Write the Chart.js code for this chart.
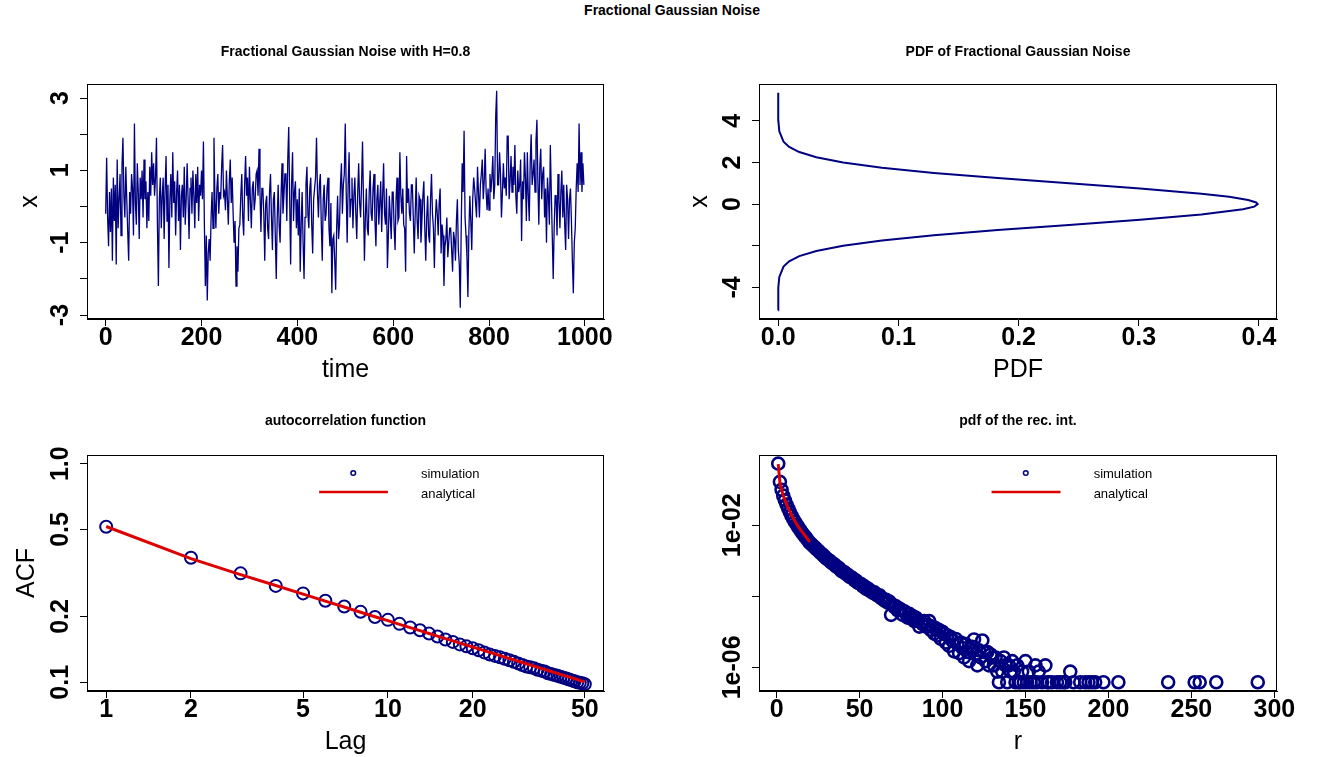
<!DOCTYPE html>
<html>
<head>
<meta charset="utf-8">
<script src="https://cdn.jsdelivr.net/npm/chart.js@4.4.1/dist/chart.umd.min.js"></script>
<style>
  body { margin: 0; background: #fff; width: 1344px; height: 757px; position: relative; overflow: hidden; }
  #main { position: absolute; left: 0; top: 2px; width: 1344px; text-align: center;
          font: bold 14px "Liberation Sans", Arial, sans-serif; color: #000; }
  .pan { position: absolute; width: 672px; }
</style>
</head>
<body>
<div id="main">Fractional Gaussian Noise</div>
<div class="pan" style="left:0;top:0;height:400px"><canvas id="c1"></canvas></div>
<div class="pan" style="left:672px;top:0;height:400px"><canvas id="c2"></canvas></div>
<div class="pan" style="left:0;top:390px;height:367px"><canvas id="c3"></canvas></div>
<div class="pan" style="left:672px;top:390px;height:367px"><canvas id="c4"></canvas></div>
<script>
// fGn sample, read every 2 time steps
const fgnStep = 2;
const fgnValue = [
  -0.2, 1.35, -0.3, -1.1, 0.4, -0.7, 0.5, -1.5, 0.8, -0.4,
  0.6, -1.6, 1.3, -0.6, 0.2, 0.9, -0.8, 1.1, 1.9, 0.3,
  -0.3, 1.1, 0.2, -0.7, -1.5, 0.4, -0.2, 0.9, 0.5, -0.8,
  2.3, 0.1, -0.5, 1.2, 0.4, -0.9, 0.8, 0.2, 1.0, -0.3,
  1.3, 0.2, 0.7, -0.6, 0.4, -0.4, 1.1, 0.3, 1.5, 0.6,
  1.2, 0.3, 0.8, 1.9, -0.5, -2.2, 0.2, 0.8, -0.6, 0.3,
  0.8, -0.9, 0.5, 1.4, -0.4, 0.6, -1.7, 0.2, 0.9, -0.3,
  1.5, 0.1, 0.7, -0.8, 0.4, 1.0, -0.4, 0.6, -1.2, 0.3,
  0.6, -0.3, 1.1, -0.5, 0.2, 1.2, 0.2, -0.9, 0.5, 0.8,
  -0.2, 1.0, 0.3, -0.6, 0.9, 0.1, 1.1, -0.4, 0.6, 0.3,
  1.0, 0.2, 1.8, -0.5, -2.2, -0.8, -2.6, -1.3, -0.9, -1.5,
  -0.3, 0.4, -0.6, 1.9, 0.2, -0.6, 0.5, 0.9, -0.2, 0.4,
  0.2, 1.1, 1.7, 0.3, 0.4, -0.1, 1.0, 0.2, -0.5, 0.7,
  1.3, 0.1, 0.8, -0.2, -1.0, -0.4, -2.2, -1.1, -1.8, -0.6,
  -0.5, 0.3, 0.9, -0.3, -0.8, 0.6, 1.4, 0.3, 0.8, -0.4,
  1.1, 0.2, -0.6, 0.5, 0.7, -0.1, 0.2, 0.9, 1.0, 0.3,
  1.6, 0.4, -0.7, 0.5, 0.5, -0.2, -1.5, 0.1, 0.3, -0.6,
  -0.9, 0.4, 0.9, -0.3, -1.2, 0.2, 0.4, -0.8, -2.0, -0.3,
  0.6, -0.5, -1.0, 0.3, 1.2, -0.2, 0.3, 0.9, 0.9, -0.4,
  1.3, 2.2, 0.2, -1.6, 0.6, 1.5, -0.4, 0.4, 0.7, -0.6,
  0.2, -0.8, 0.5, -1.8, -0.5, 0.4, -1.0, -2.0, -0.3, 0.6,
  1.1, -0.2, -0.6, 0.5, 0.8, -0.5, -1.3, 0.2, 0.5, 0.8,
  1.9, 0.4, -0.3, 0.6, 0.9, -0.5, -1.5, 0.2, 0.6, -0.4,
  -0.2, 0.5, 0.8, -0.6, -1.1, 0.1, -2.4, -0.9, -0.8, -1.5,
  -2.3, -0.6, 0.3, -0.9, -0.5, 0.6, 1.2, -0.2, 0.6, 0.9,
  2.3, 0.4, -1.0, 0.6, 1.5, -0.3, 0.2, 0.8, -0.6, 0.3,
  0.8, -0.2, -0.9, 0.4, 1.2, 0.1, -0.3, 0.6, 1.8, 0.2,
  -1.5, -0.3, 0.5, -0.6, -0.8, 0.4, 1.0, -0.2, -0.4, 0.5,
  0.9, -0.4, -1.1, 0.2, 0.6, -0.5, 0.1, 0.7, -0.7, 0.3,
  1.2, -0.2, -0.5, 0.5, -1.7, -0.8, 0.3, -0.3, -0.9, 0.4,
  0.4, -0.6, -1.2, 0.2, 0.8, -0.4, -0.3, 1.5, 0.3, -0.2,
  0.5, -0.5, -0.6, -1.8, 1.4, 0.1, 0.5, -0.2, -0.4, 0.6,
  0.6, -0.3, -1.3, -0.2, 0.8, -0.4, -0.9, 0.3, 0.2, -1.0,
  -0.4, 0.3, 0.7, -0.6, -1.5, -0.3, 0.3, -0.8, -1.0, 0.2,
  0.9, -0.2, -0.6, -1.7, -0.4, 0.2, -0.2, -0.8, 0.1, 0.5,
  -1.3, -0.5, -0.8, -2.2, -1.1, -0.9, -0.3, -1.4, -1.0, -0.6,
  -0.6, -1.2, -1.8, -0.7, -0.9, -1.5, -0.4, 0.2, -1.2, -1.6,
  -2.8, -0.6, 1.2, 0.4, 2.1, -0.3, -0.8, -1.4, -2.5, -0.7,
  0.3, -0.4, -1.2, 0.2, 0.8, 0.5, 0.1, -0.3, 1.1, 0.4,
  -0.3, 0.6, 0.9, 1.3, 0.2, 0.7, 1.6, 0.4, -0.1, 0.5,
  -0.1, 0.9, 0.4, 0.8, 1.4, 0.2, 0.6, 2.5, 3.2, 0.6,
  0.6, 1.5, 0.9, -0.3, 0.4, 1.2, 0.5, 0.8, 0.3, 1.95,
  1.95, 0.2, 0.7, 1.4, 0.4, 1.1, 0.6, 1.7, 0.3, -0.2,
  1.0, 0.4, 0.6, 1.3, -0.95, 0.7, 0.2, 1.5, 0.8, -0.4,
  1.5, 0.3, -0.4, 1.2, 2.0, 0.6, 0.9, 1.3, 0.4, 1.8,
  2.4, 0.7, -0.5, 1.1, 1.6, 0.2, 0.9, 1.1, -0.3, 0.5,
  -1.0, 0.8, 0.3, -0.5, 1.7, 0.4, -0.8, -2.0, -0.6, 0.3,
  0.3, -0.8, 0.9, 0.2, -0.6, 0.4, 1.0, -0.3, 0.6, -0.5,
  -1.2, 0.6, 0.2, -0.9, 0.2, 0.5, -0.4, -1.5, -2.4, -1.0,
  -0.6, 0.5, 1.2, 0.4, 2.3, 0.6, 1.5, 0.4, 1.2, 0.6
];

// density curve (x on the vertical axis)
const pdfX = [-5.1, -4.5, -4.0, -3.5, -3.0, -2.75, -2.5, -2.25, -2.0, -1.75, -1.5, -1.25, -1.0, -0.75,
  -0.5, -0.25, -0.12, 0.0, 0.08, 0.2, 0.35, 0.5, 0.75, 1.0, 1.25, 1.5, 1.75, 2.0, 2.25, 2.5, 2.75,
  3.0, 3.5, 4.0, 4.5, 5.35];
const pdfDensity = [0.0, 0.00002, 0.0001, 0.0009, 0.0044, 0.0091, 0.0175, 0.0317, 0.054, 0.0863,
  0.1295, 0.1826, 0.242, 0.3011, 0.3521, 0.3867, 0.3961, 0.3989, 0.3977, 0.391, 0.3752, 0.3521,
  0.3011, 0.242, 0.1826, 0.1295, 0.0863, 0.054, 0.0317, 0.0175, 0.0091, 0.0044, 0.0009, 0.0001,
  0.00002, 0.0];

// autocorrelation, lags 1..50
const acfLag = [1, 2, 3, 4, 5, 6, 7, 8, 9, 10, 11, 12, 13, 14, 15, 16, 17, 18, 19, 20, 21, 22, 23, 24, 25,
  26, 27, 28, 29, 30, 31, 32, 33, 34, 35, 36, 37, 38, 39, 40, 41, 42, 43, 44, 45, 46, 47, 48, 49, 50];
const acfSim = [0.515, 0.371, 0.315, 0.276, 0.255, 0.236, 0.222, 0.210, 0.199, 0.193,
  0.185, 0.178, 0.173, 0.167, 0.162, 0.157, 0.153, 0.149, 0.146, 0.143,
  0.140, 0.137, 0.134, 0.132, 0.130, 0.128, 0.126, 0.124, 0.122, 0.120,
  0.118, 0.117, 0.116, 0.114, 0.113, 0.112, 0.110, 0.109, 0.108, 0.107,
  0.106, 0.105, 0.104, 0.103, 0.102, 0.101, 0.100, 0.0995, 0.099, 0.098];
const acfTheory = [0.516, 0.368, 0.311, 0.277, 0.253, 0.235, 0.221, 0.209, 0.1995, 0.1913,
  0.1841, 0.1778, 0.1722, 0.1671, 0.1626, 0.1584, 0.1546, 0.1511, 0.1479, 0.1449,
  0.1421, 0.1395, 0.1370, 0.1347, 0.1325, 0.1304, 0.1285, 0.1266, 0.1248, 0.1231,
  0.1215, 0.1200, 0.1185, 0.1171, 0.1158, 0.1145, 0.1132, 0.1120, 0.1109, 0.1098,
  0.1087, 0.1076, 0.1066, 0.1056, 0.1047, 0.1038, 0.1029, 0.1020, 0.1012, 0.1004];

// recurrence interval pdf: r = 1..133 consecutive, then a sparse tail
const recPdf = [
  5.4e-1, 1.66e-1, 1.0e-1, 6.8e-2, 5.0e-2, 3.8e-2, 2.95e-2, 2.34e-2, 1.86e-2, 1.51e-2,
  1.26e-2, 1.05e-2, 8.9e-3, 7.6e-3, 6.5e-3, 5.6e-3, 4.9e-3, 4.3e-3, 3.7e-3, 3.2e-3,
  2.95e-3, 2.63e-3, 2.4e-3, 2.14e-3, 1.95e-3, 1.74e-3, 1.58e-3, 1.45e-3, 1.29e-3, 1.17e-3,
  1.07e-3, 1.0e-3, 8.9e-4, 8.3e-4, 7.8e-4, 6.8e-4, 6.5e-4, 6.0e-4, 5.2e-4, 4.9e-4,
  4.7e-4, 4.2e-4, 4.0e-4, 3.55e-4, 3.4e-4, 3.2e-4, 2.8e-4, 2.75e-4, 2.4e-4, 2.3e-4,
  2.2e-4, 1.9e-4, 1.9e-4, 1.62e-4, 1.66e-4, 1.45e-4, 1.41e-4, 1.26e-4, 1.29e-4, 1.12e-4,
  1.05e-4, 1.07e-4, 8.9e-5, 8.7e-5, 7.6e-5, 7.9e-5, 6.6e-5, 7.1e-5, 3.0e-5, 5.8e-5,
  5.0e-5, 5.2e-5, 4.0e-5, 4.5e-5, 4.2e-5, 3.0e-5, 3.8e-5, 3.3e-5, 2.5e-5, 3.2e-5,
  2.4e-5, 2.8e-5, 2.0e-5, 2.5e-5, 2.1e-5, 1.4e-5, 1.9e-5, 1.66e-5, 2.0e-5, 1.4e-5,
  1.6e-5, 2.0e-5, 1.12e-5, 1.4e-5, 8.9e-6, 1.26e-5, 7.9e-6, 1.12e-5, 6.3e-6, 1.0e-5,
  8.9e-6, 5.0e-6, 7.9e-6, 4.0e-6, 7.1e-6, 5.6e-6, 2.8e-6, 6.3e-6, 4.5e-6, 2.5e-6,
  5.0e-6, 3.5e-6, 1.9e-6, 4.5e-6, 2.7e-6, 1.5e-6, 3.4e-6, 3.8e-6, 6.1e-6, 2.3e-6,
  1.14e-6, 3.0e-6, 1.9e-6, 5.7e-6, 2.7e-6, 1.5e-6, 2.7e-6, 1.14e-6, 2.3e-6, 1.9e-6,
  1.14e-6, 1.9e-6, 7.6e-7
];
const recTailR = [134, 135, 136, 137, 138, 139, 140, 141, 142, 143, 144, 145, 146, 147, 148, 149, 150,
  151, 152, 153, 155, 156, 157, 158, 160, 162, 163, 164, 166, 169, 171, 173, 174, 177, 179, 183, 186,
  188, 190, 192, 197, 206, 236, 252, 255, 265, 290];
const recTailPdf = [3.8e-7, 1.5e-6, 7.6e-7, 1.9e-6, 1.14e-6, 3.8e-7, 1.14e-6, 7.6e-7, 1.5e-6, 7.6e-7,
  3.8e-7, 1.14e-6, 3.8e-7, 3.8e-7, 7.6e-7, 3.8e-7, 1.5e-6, 3.8e-7, 7.6e-7, 3.8e-7, 3.8e-7, 1.14e-6,
  3.8e-7, 7.6e-7, 3.8e-7, 1.14e-6, 3.8e-7, 3.8e-7, 3.8e-7, 3.8e-7, 3.8e-7, 3.8e-7, 3.8e-7, 7.6e-7,
  3.8e-7, 3.8e-7, 3.8e-7, 3.8e-7, 3.8e-7, 3.8e-7, 3.8e-7, 3.8e-7, 3.8e-7, 3.8e-7, 3.8e-7, 3.8e-7, 3.8e-7];
const recTheory = [5.2e-1, 1.6e-1, 1.0e-1, 6.9e-2, 5.1e-2, 3.9e-2, 3.0e-2, 2.4e-2, 1.95e-2, 1.6e-2,
  1.32e-2, 1.1e-2, 9.3e-3, 8.0e-3, 6.9e-3, 6.0e-3, 5.2e-3, 4.5e-3, 3.9e-3, 3.4e-3];

// tick values and labels
const t1x = [0, 200, 400, 600, 800, 1000];
const t1y = [-3, -2, -1, 0, 1, 2, 3];
const l1y = [-3, -1, 1, 3];
const t2x = [0, 0.1, 0.2, 0.3, 0.4];
const t2xText = ['0.0', '0.1', '0.2', '0.3', '0.4'];
const t2y = [-4, -2, 0, 2, 4];
const l2y = [-4, 0, 2, 4];
const t3x = [1, 2, 5, 10, 20, 50];
const t3y = [0.1, 0.2, 0.5, 1.0];
const l3yText = ['0.1', '0.2', '0.5', '1.0'];
const t4x = [0, 50, 100, 150, 200, 250, 300];
const t4y = [1e-6, 1e-4, 1e-2];
const l4y = [1e-2, 1e-6];
const l4yText = ['1e-02', '1e-06'];

const FONT = '"Liberation Sans", Arial, Helvetica, sans-serif';
const NAVY = '#000080';
const RED = '#dd0000';

// full box round the plot region, and the panel title centred over it
const boxPlugin = {
  id: 'box',
  afterDraw(chart, args, opts) {
    const a = chart.chartArea, ctx = chart.ctx;
    ctx.save();
    ctx.strokeStyle = '#000';
    ctx.lineWidth = 1;
    ctx.strokeRect(Math.round(a.left) + 0.5, Math.round(a.top) + 0.5,
      Math.round(a.right - a.left) - 1, Math.round(a.bottom - a.top) - 1);
    ctx.fillStyle = '#000';
    ctx.font = 'bold 14px ' + FONT;
    ctx.textAlign = 'center';
    ctx.textBaseline = 'middle';
    ctx.fillText(opts.title, (a.left + a.right) / 2, a.top - opts.gap);
    ctx.restore();
  }
};

// rotated y tick labels, like R's default las=0
const yLabelPlugin = {
  id: 'ylab',
  afterDraw(chart, args, opts) {
    const s = chart.scales.y, ctx = chart.ctx;
    ctx.save();
    ctx.font = 'bold 25px ' + FONT;
    ctx.fillStyle = '#000';
    ctx.textAlign = 'center';
    ctx.textBaseline = 'alphabetic';
    opts.values.forEach((v, i) => {
      ctx.save();
      ctx.translate(chart.chartArea.left - 19, s.getPixelForValue(v));
      ctx.rotate(-Math.PI / 2);
      ctx.fillText(opts.labels[i], 0, 0);
      ctx.restore();
    });
    ctx.restore();
  }
};

// small legend in the top part of the plot
const legendPlugin = {
  id: 'rlegend',
  afterDraw(chart, args, opts) {
    if (!opts.show) return;
    const a = chart.chartArea, w = a.right - a.left, ctx = chart.ctx;
    const y1 = a.top + 18, y2 = a.top + 37;
    ctx.save();
    ctx.strokeStyle = NAVY;
    ctx.lineWidth = 1.5;
    ctx.beginPath();
    ctx.arc(a.left + 0.515 * w, y1, 2.3, 0, Math.PI * 2);
    ctx.stroke();
    ctx.strokeStyle = RED;
    ctx.lineWidth = 2.5;
    ctx.beginPath();
    ctx.moveTo(a.left + 0.449 * w, y2);
    ctx.lineTo(a.left + 0.582 * w, y2);
    ctx.stroke();
    ctx.fillStyle = '#000';
    ctx.font = '13px ' + FONT;
    ctx.textAlign = 'left';
    ctx.textBaseline = 'middle';
    ctx.fillText('simulation', a.left + 0.646 * w, y1 + 1);
    ctx.fillText('analytical', a.left + 0.646 * w, y2 + 2);
    ctx.restore();
  }
};

function axis(pos, type, min, max, tickVals, tickText, title, size, titlePad) {
  const horiz = pos === 'bottom';
  return {
    type: type, position: pos, min: min, max: max,
    afterBuildTicks: ax => { ax.ticks = tickVals.map(v => ({ value: v })); },
    afterFit: ax => { if (horiz) ax.height = size; else ax.width = size; },
    ticks: {
      display: horiz, autoSkip: false, maxRotation: 0, minRotation: 0, padding: 0, color: '#000',
      font: { family: FONT, size: 25, weight: 'bold', lineHeight: 1 },
      callback: (v, i) => tickText[i]
    },
    grid: { drawOnChartArea: false, drawTicks: true, tickLength: 7, tickColor: '#000', tickWidth: 1 },
    border: { display: true, color: '#000', width: 1 },
    title: { display: !!title, text: title, color: '#000', font: { family: FONT, size: 25 }, padding: titlePad }
  };
}

function options(o) {
  return {
    responsive: true, maintainAspectRatio: false, animation: false, events: [],
    layout: { padding: { left: 0, right: o.padRight, top: o.padTop, bottom: 0 } },
    plugins: {
      legend: { display: false },
      tooltip: { enabled: false },
      title: { display: false },
      box: { title: o.title, gap: o.titleGap },
      ylab: { values: o.yLabVals, labels: o.yLabText },
      rlegend: { show: !!o.legend }
    },
    scales: { x: o.x, y: o.y }
  };
}

const plugins = [boxPlugin, yLabelPlugin, legendPlugin];

new Chart(document.getElementById('c1'), {
  type: 'line',
  data: {
    datasets: [{
      data: fgnValue.map((v, i) => ({ x: i * fgnStep, y: v })),
      borderColor: NAVY, borderWidth: 1.3, pointRadius: 0, tension: 0, fill: false
    }]
  },
  options: options({
    title: 'Fractional Gaussian Noise with H=0.8', titleGap: 32, padTop: 84, padRight: 68,
    yLabVals: l1y, yLabText: l1y.map(String),
    x: axis('bottom', 'linear', -39, 1040, t1x, t1x.map(String), 'time', 81, { top: 0, bottom: 15 }),
    y: axis('left', 'linear', -3.11, 3.39, t1y, t1y.map(String), 'x', 87, { top: 15, bottom: 0 })
  }),
  plugins: plugins
});

new Chart(document.getElementById('c2'), {
  type: 'scatter',
  data: {
    datasets: [{
      data: pdfX.map((v, i) => ({ x: pdfDensity[i], y: v })),
      showLine: true, borderColor: NAVY, borderWidth: 2, pointRadius: 0, tension: 0
    }]
  },
  options: options({
    title: 'PDF of Fractional Gaussian Noise', titleGap: 32, padTop: 84, padRight: 67,
    yLabVals: l2y, yLabText: l2y.map(String),
    x: axis('bottom', 'linear', -0.016, 0.415, t2x, t2xText, 'PDF', 81, { top: 0, bottom: 15 }),
    y: axis('left', 'linear', -5.52, 5.77, t2y, t2y.map(String), 'x', 87, { top: 13, bottom: 0 })
  }),
  plugins: plugins
});

new Chart(document.getElementById('c3'), {
  type: 'scatter',
  data: {
    datasets: [
      {
        data: acfLag.map((k, i) => ({ x: k, y: acfSim[i] })),
        showLine: false, pointStyle: 'circle', pointRadius: 6, pointBorderWidth: 2,
        pointBorderColor: NAVY, pointBackgroundColor: 'rgba(0,0,0,0)', order: 2
      },
      {
        data: acfLag.map((k, i) => ({ x: k, y: acfTheory[i] })),
        showLine: true, borderColor: RED, borderWidth: 3, pointRadius: 0, tension: 0, order: 1
      }
    ]
  },
  options: options({
    title: 'autocorrelation function', titleGap: 34, padTop: 65, padRight: 68, legend: true,
    yLabVals: t3y, yLabText: l3yText,
    x: axis('bottom', 'logarithmic', 0.855, 58.5, t3x, t3x.map(String), 'Lag', 66, { top: 0, bottom: 0 }),
    y: axis('left', 'logarithmic', 0.0912, 1.096, t3y, l3yText, 'ACF', 87, { top: 12, bottom: 0 })
  }),
  plugins: plugins
});

new Chart(document.getElementById('c4'), {
  type: 'scatter',
  data: {
    datasets: [
      {
        data: recPdf.map((p, i) => ({ x: i + 1, y: p }))
          .concat(recTailR.map((r, i) => ({ x: r, y: recTailPdf[i] }))),
        showLine: false, pointStyle: 'circle', pointRadius: 6, pointBorderWidth: 2.6,
        pointBorderColor: NAVY, pointBackgroundColor: 'rgba(0,0,0,0)', order: 2
      },
      {
        data: recTheory.map((p, i) => ({ x: i + 1, y: p })),
        showLine: true, borderColor: RED, borderWidth: 3, pointRadius: 0, tension: 0, order: 1
      }
    ]
  },
  options: options({
    title: 'pdf of the rec. int.', titleGap: 34, padTop: 65, padRight: 67, legend: true,
    yLabVals: l4y, yLabText: l4yText,
    x: axis('bottom', 'linear', -10.6, 301.6, t4x, t4x.map(String), 'r', 66, { top: 0, bottom: 0 }),
    y: axis('left', 'logarithmic', 2.16e-7, 0.946, t4y, ['', '', ''], '', 87, { top: 15, bottom: 0 })
  }),
  plugins: plugins
});
</script>
</body>
</html>
